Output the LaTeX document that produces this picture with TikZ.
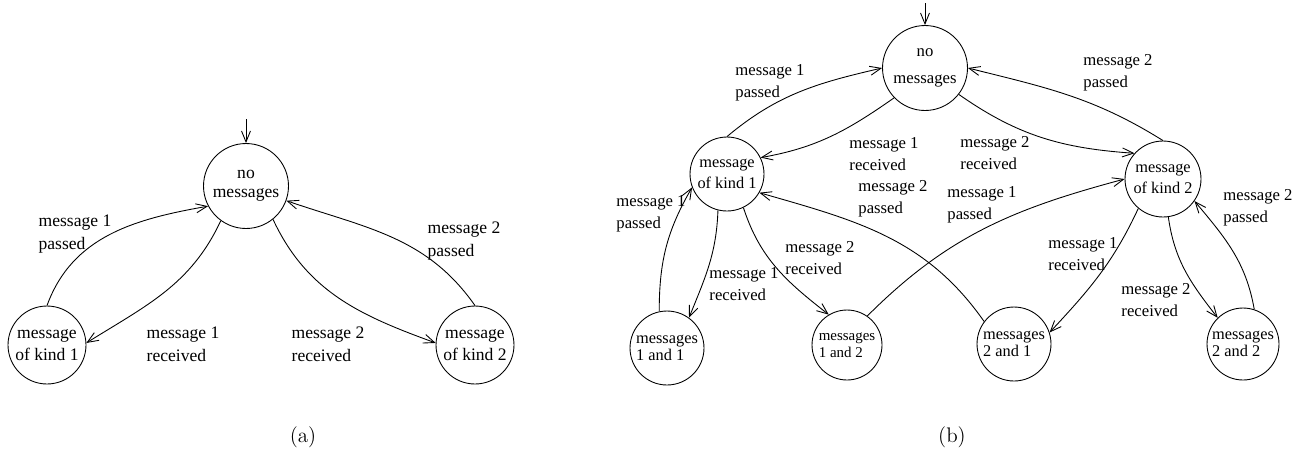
\documentclass[tikz,border=0pt]{standalone}
\usepackage{fontspec}
\newfontfamily\tfont{Liberation Serif}
\usetikzlibrary{arrows.meta}

\begin{document}
\begin{tikzpicture}[x=0.02cm, y=-0.02cm, line width=0.5pt,
    >={Straight Barb[length=2.2mm,width=1.8mm]},
    state/.style={draw, circle, inner sep=0pt, minimum size=1.56cm,
      align=center, font=\tfont\fontsize{10}{13}\selectfont},
    big/.style={state, minimum size=1.70cm},
    bstate/.style={state, minimum size=1.48cm,
      font=\tfont\fontsize{9.3}{12.3}\selectfont},
    pair/.style={bstate, align=left,
      font=\tfont\fontsize{9.3}{9.8}\selectfont},
    lab/.style={align=left, inner sep=0pt,
      font=\tfont\fontsize{10}{13}\selectfont},
    blab/.style={lab, font=\tfont\fontsize{9.5}{12.3}\selectfont},
    caption/.style={font=\large}]
  \useasboundingbox (0,0) rectangle (1305,454);

  % (a) two kinds of message
  \node[big]   (no)  at (246,186) {no\\[-2pt]messages};
  \node[state] (k1)  at (47,345)  {message\\of kind 1};
  \node[state] (k2)  at (475,345) {message\\of kind 2};
  \coordinate (ina) at (246,119);
  \draw[->] (ina) -- (no.north);
  \draw[->] (k1.90)  to[out=70,in=190]  (no.208);
  \draw[->] (no.234) to[out=245,in=32]  (k1.3);
  \draw[->] (no.309) to[out=-65,in=160] (k2.177);
  \draw[->] (k2.90)  to[out=125,in=341] (no.340);
  \node[lab] (a1) at (75,234)  {message 1\\passed};
  \node[lab] (a2) at (183,344) {message 1\\received};
  \node[lab] (a3) at (328,344) {message 2\\received};
  \node[lab] (a4) at (464,241) {message 2\\passed};
  \node[caption] (capa) at (303,437) {(a)};

  % (b) pairs of messages
  \node[big, font=\tfont\fontsize{9.5}{15}\selectfont]
               (nob) at (925,68)   {no\\messages};
  \node[bstate] (b1) at (727,174)  {message\\of kind 1};
  \node[bstate, minimum size=1.52cm] (b2) at (1163,179) {message\\of kind 2};
  \node[pair]  (m11) at (667,348)  {messages\\1 and 1};
  \node[pair, minimum size=1.40cm, font=\tfont\fontsize{8.5}{9.5}\selectfont]
               (m12) at (847,345)  {messages\\1 and 2};
  \node[pair]  (m21) at (1014,344) {messages\\2 and 1};
  \node[pair, minimum size=1.44cm] (m22) at (1243,344) {messages\\2 and 2};
  \coordinate (inb) at (925,3);
  \draw[->] (inb) -- (nob.north);
  \draw[->] (b1.90)   to[out=40,in=193]  (nob.180);
  \draw[->] (nob.224) to[out=215,in=10]  (b1.26);
  \draw[->] (nob.322) to[out=-35,in=176] (b2.138);
  \draw[->] (b2.90)   to[out=148,in=346] (nob.0);
  \draw[->] (m21.143) to[out=125,in=344] (b1.330);
  \draw[->] (m12.55)  to[out=45,in=195]  (b2.180);
  \draw[->] (m11.102) to[out=90,in=240]  (b1.201);
  \draw[->] (b1.256)  to[out=268,in=68]  (m11.54);
  \draw[->] (b1.296)  to[out=288,in=142] (m12.121);
  \draw[->] (b2.230)  to[out=245,in=47]  (m21.18);
  \draw[->] (b2.278)  to[out=278,in=128] (m22.134);
  \draw[->] (m22.72)  to[out=100,in=310] (b2.325);
  \node[blab] (b1p) at (770,83)   {message 1\\passed};
  \node[blab] (b1r) at (884,154)  {message 1\\received};
  \node[blab] (b2p) at (893,199)  {message 2\\passed};
  \node[blab] (b2r) at (995,153)  {message 2\\received};
  \node[blab] (c2p) at (1118,73)  {message 2\\passed};
  \node[blab] (c1p) at (982,205)  {message 1\\passed};
  \node[blab] (d2p) at (1258,208) {message 2\\passed};
  \node[blab] (d1p) at (651,214)  {message 1\\passed};
  \node[blab] (d1r) at (744,284)  {message 1\\received};
  \node[blab] (d2r) at (820,258)  {message 2\\received};
  \node[blab] (e1r) at (1083,254) {message 1\\received};
  \node[blab] (e2r) at (1156,300) {message 2\\received};
  \node[caption] (capb) at (952,437) {(b)};
\end{tikzpicture}
\end{document}
